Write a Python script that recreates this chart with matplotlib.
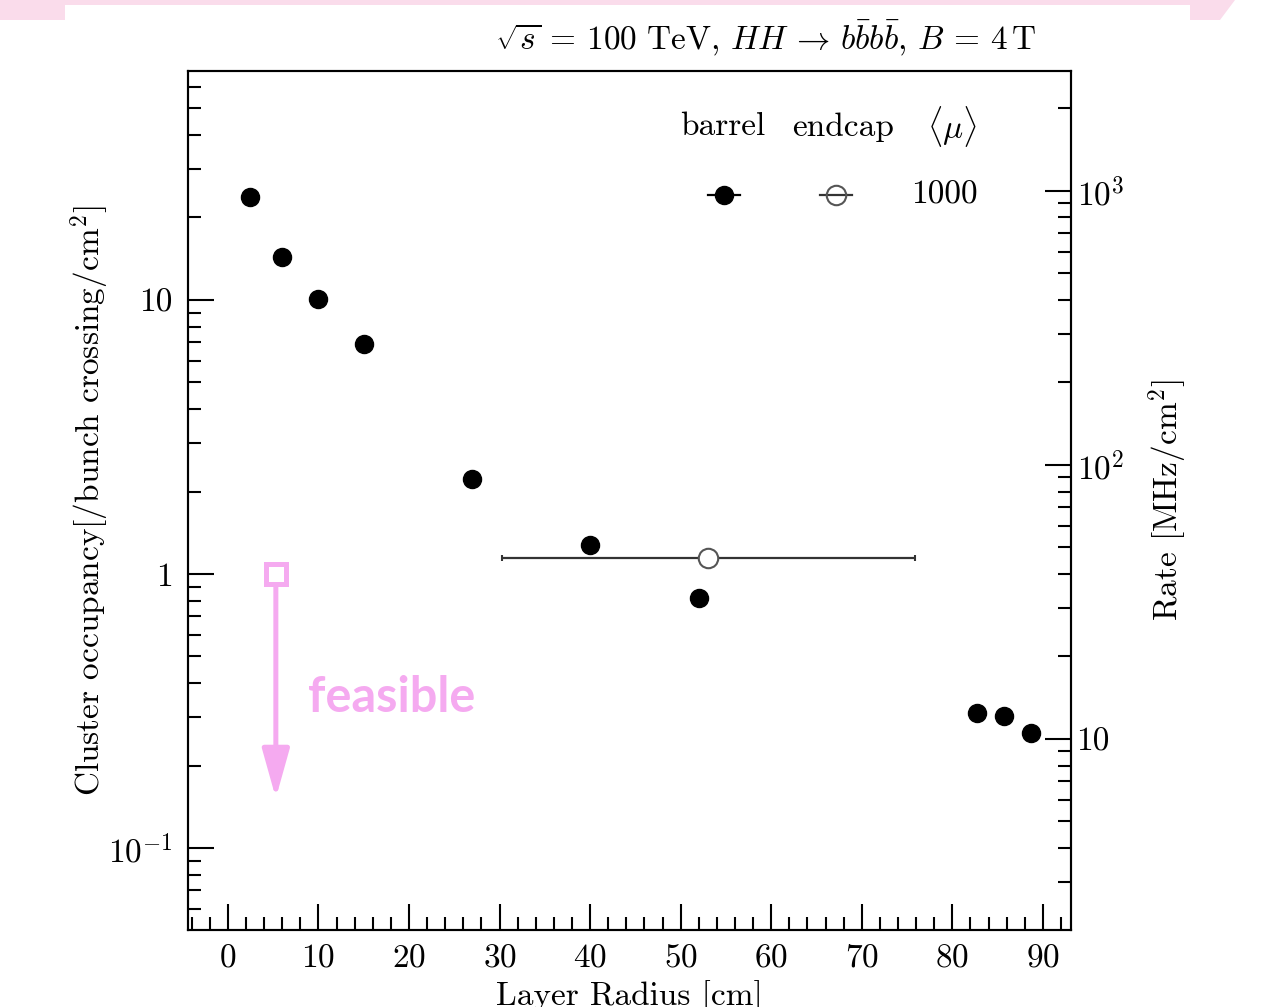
import numpy as np
import matplotlib.pyplot as plt
from matplotlib.ticker import FixedLocator, FuncFormatter, LogLocator, MultipleLocator, NullFormatter
from matplotlib.patches import Polygon, Rectangle

plt.rcParams['font.family'] = 'serif'
plt.rcParams['font.serif'] = ['cmr10']
plt.rcParams['mathtext.fontset'] = 'cm'
plt.rcParams['axes.formatter.use_mathtext'] = True

# barrel layers
barrel_r = [2.5, 6.0, 10.0, 15.0, 27.0, 40.0, 52.0, 82.7, 85.7, 88.7]
barrel_occ = [23.8, 14.4, 10.1, 6.9, 2.22, 1.28, 0.817, 0.311, 0.303, 0.263]
# endcap (radius range as x error)
endcap_r = [53.0]
endcap_occ = [1.14]
endcap_lo = [30.3]
endcap_hi = [75.9]
# feasibility marker
feasible_r = 5.3
feasible_occ = 1.0
feasible_tip = 0.152
rate_per_occ = 40.0  # MHz per (occupancy / bunch crossing), 25 ns spacing

left_ticks = [0.1, 1, 10]
left_labels = [r'$10^{-1}$', '1', '10']
right_ticks = [10, 100, 1000]
right_labels = ['10', r'$10^{2}$', r'$10^{3}$']

ylim = (0.0502, 68.5)
xlim = (-4.4, 93.1)
pink = '#F5AAF0'
fs = 24

fig = plt.figure(figsize=(12.72, 10.07), dpi=100)

# slide decoration at the top
fig.patches.append(Polygon([[0, 1], [1235 / 1272, 1], [1220 / 1272, 1 - 20 / 1007], [0, 1 - 20 / 1007]],
                           closed=True, transform=fig.transFigure, facecolor='#FADCEB', edgecolor='none', zorder=-10))
fig.patches.append(Rectangle((65 / 1272, 0), (1190 - 65) / 1272, 1 - 5 / 1007,
                             transform=fig.transFigure, facecolor='white', edgecolor='none', zorder=-9))

ax = fig.add_axes([188 / 1272, 1 - 930 / 1007, (1071 - 188) / 1272, (930 - 71) / 1007])
ax.set_facecolor('none')

ax.plot(barrel_r, barrel_occ, 'o', color='black', ms=13, zorder=3)
xerr = [np.array(endcap_r) - np.array(endcap_lo), np.array(endcap_hi) - np.array(endcap_r)]
ax.errorbar(endcap_r, endcap_occ, xerr=xerr, fmt='o', mfc='white', mec='#555555', mew=1.5, ms=14,
            ecolor='#333333', elinewidth=1.6, capsize=2.5, capthick=1.6, zorder=3)

# feasible region annotation
ax.annotate('', xy=(feasible_r, feasible_tip), xytext=(feasible_r, feasible_occ * 0.955),
            arrowprops=dict(arrowstyle='-|>,head_length=1.5,head_width=0.42', mutation_scale=20,
                            lw=3.6, color=pink, shrinkA=0, shrinkB=0))
ax.plot([feasible_r], [feasible_occ], 's', mfc='white', mec=pink, mew=3.6, ms=14.5, zorder=4)
ax.text(8.8, 0.355, 'feasible', color=pink, fontsize=35, fontweight='bold', family='Lato',
        ha='left', va='center')

ax.set_yscale('log')
ax.set_xlim(*xlim)
ax.set_ylim(*ylim)
ax.yaxis.set_major_locator(FixedLocator(left_ticks))
ax.yaxis.set_major_formatter(FuncFormatter(lambda v, p: left_labels[left_ticks.index(v)] if v in left_ticks else ''))
ax.yaxis.set_minor_locator(LogLocator(base=10, subs=np.arange(2, 10)))
ax.yaxis.set_minor_formatter(NullFormatter())
ax.xaxis.set_major_locator(MultipleLocator(10))
ax.xaxis.set_minor_locator(MultipleLocator(2))

ax.tick_params(which='both', direction='in', top=False, right=False, width=1.5, labelsize=fs)
ax.tick_params(which='major', length=19)
ax.tick_params(which='minor', length=9.5)
ax.tick_params(axis='y', pad=11)
ax.tick_params(axis='x', pad=10)
for s in ax.spines.values():
    s.set_linewidth(1.5)

ax.set_xlabel('Layer Radius [cm]', fontsize=fs, labelpad=5)
ax.set_ylabel(r'Cluster occupancy[/bunch crossing/cm$^2$]', fontsize=fs, labelpad=-3)

ax2 = ax.twinx()
ax2.set_yscale('log')
ax2.set_ylim(ylim[0] * rate_per_occ, ylim[1] * rate_per_occ)
ax2.yaxis.set_major_locator(FixedLocator(right_ticks))
ax2.yaxis.set_major_formatter(FuncFormatter(lambda v, p: right_labels[right_ticks.index(v)] if v in right_ticks else ''))
ax2.yaxis.set_minor_locator(LogLocator(base=10, subs=np.arange(2, 10)))
ax2.yaxis.set_minor_formatter(NullFormatter())
ax2.tick_params(which='both', direction='in', width=1.5, labelsize=fs, pad=4)
ax2.tick_params(which='major', length=19)
ax2.tick_params(which='minor', length=9.5)
ax2.set_ylabel(r'Rate [MHz/cm$^2$]', fontsize=fs, labelpad=16)
for s in ax2.spines.values():
    s.set_linewidth(1.5)

# legend table
ly_head = 0.935
ly_row = 0.856
ax.text(0.605, ly_head, 'barrel', transform=ax.transAxes, fontsize=fs, ha='center', va='center')
ax.text(0.742, ly_head, 'endcap', transform=ax.transAxes, fontsize=fs, ha='center', va='center')
ax.text(0.865, ly_head, r'$\langle\mu\rangle$', transform=ax.transAxes, fontsize=fs, ha='center', va='center')
ax.plot([0.589, 0.625], [ly_row, ly_row], color='black', lw=1.6, transform=ax.transAxes)
ax.plot([0.607], [ly_row], 'o', color='black', ms=13, transform=ax.transAxes)
ax.plot([0.716, 0.752], [ly_row, ly_row], color='#333333', lw=1.6, transform=ax.transAxes)
ax.plot([0.734], [ly_row], 'o', mfc='none', mec='#555555', mew=1.5, ms=14, transform=ax.transAxes)
ax.text(0.857, ly_row, '1000', transform=ax.transAxes, fontsize=fs, ha='center', va='center')

fig.text(766 / 1272, 1 - 38 / 1007,
         r'$\sqrt{s}\,=\,100\ \mathrm{TeV},\, HH\,\rightarrow\, b\bar{b}b\bar{b},\, B\,=\,4\,\mathrm{T}$',
         fontsize=fs, ha='center', va='center')

fig.savefig('out.png', dpi=100)
